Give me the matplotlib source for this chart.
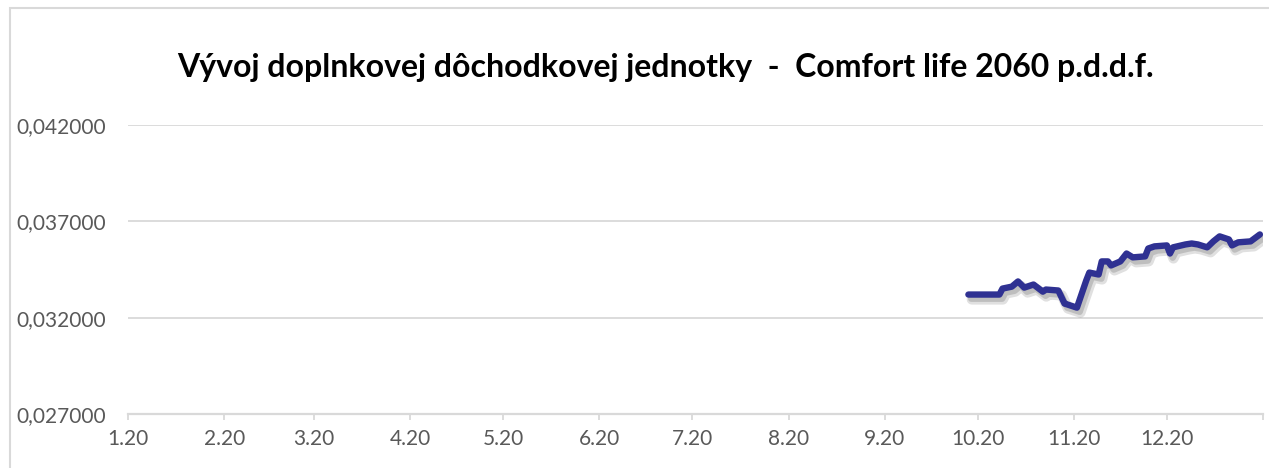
import pandas as pd
import numpy as np
import matplotlib.pyplot as plt
import matplotlib.dates as mdates
import matplotlib.patheffects as pe
from matplotlib.patches import Rectangle

# ==========================================
# DATA
# ==========================================
dates = [
    "2020-09-28", "2020-09-30", "2020-10-02", "2020-10-06", "2020-10-08",
    "2020-10-09", "2020-10-12", "2020-10-14", "2020-10-16", "2020-10-19",
    "2020-10-22", "2020-10-23", "2020-10-27", "2020-10-29", "2020-10-30",
    "2020-11-02", "2020-11-05", "2020-11-06", "2020-11-09", "2020-11-10",
    "2020-11-12", "2020-11-13", "2020-11-16", "2020-11-18", "2020-11-20",
    "2020-11-24", "2020-11-25", "2020-11-27", "2020-12-01", "2020-12-02",
    "2020-12-03", "2020-12-07", "2020-12-09", "2020-12-11", "2020-12-14",
    "2020-12-16", "2020-12-18", "2020-12-21", "2020-12-22", "2020-12-24",
    "2020-12-28", "2020-12-31",
]
values = [
    0.03320, 0.03320, 0.03320, 0.03320, 0.03320,
    0.03351, 0.03361, 0.03388, 0.03356, 0.03372,
    0.03335, 0.03346, 0.03341, 0.03273, 0.03268,
    0.03252, 0.03393, 0.03434, 0.03424, 0.03492,
    0.03492, 0.03471, 0.03492, 0.03533, 0.03513,
    0.03518, 0.03559, 0.03570, 0.03575, 0.03533,
    0.03565, 0.03580, 0.03585, 0.03580, 0.03565,
    0.03596, 0.03622, 0.03606, 0.03575, 0.03591,
    0.03596, 0.03632,
]
month_starts = pd.date_range("2020-01-01", "2021-01-01", freq="MS")
month_labels = ["1.20", "2.20", "3.20", "4.20", "5.20", "6.20", "7.20",
                "8.20", "9.20", "10.20", "11.20", "12.20", ""]
y_ticks = [0.027, 0.032, 0.037, 0.042]

title = "Vývoj doplnkovej dôchodkovej jednotky  -  Comfort life 2060 p.d.d.f."

# ==========================================
# CHART
# ==========================================
plt.rcParams['font.family'] = ['Lato', 'DejaVu Sans']

W, H = 1269, 468
fig = plt.figure(figsize=(W / 100, H / 100), dpi=100)
ax = fig.add_axes([128 / W, 1 - 414 / H, (1263 - 128) / W, (414 - 125) / H])

grid_c = '#d9d9d9'
text_c = '#595959'

x = pd.to_datetime(dates)
ax.plot(x, values, color='#2f3192', linewidth=4.6, solid_joinstyle='round',
        solid_capstyle='round', zorder=3,
        path_effects=[pe.SimpleLineShadow(offset=(2.5, -3.5), shadow_color='#000000', alpha=0.12, linewidth=7.5),
                      pe.SimpleLineShadow(offset=(2, -3), shadow_color='#000000', alpha=0.15),
                      pe.Normal()])

ax.set_xlim(month_starts[0], month_starts[-1])
ax.set_ylim(0.027, 0.042)
ax.set_xticks(month_starts)
ax.set_xticklabels(month_labels)
ax.set_yticks(y_ticks)
ax.yaxis.set_major_formatter(plt.FuncFormatter(lambda v, p: f"{v:.6f}".replace('.', ',')))

ax.grid(axis='y', color=grid_c, linewidth=1.3)
ax.set_axisbelow(True)
for s in ['top', 'right', 'left']:
    ax.spines[s].set_visible(False)
ax.spines['bottom'].set_color(grid_c)
ax.spines['bottom'].set_linewidth(1.6)

ax.tick_params(axis='y', length=0, pad=16, labelsize=15, labelcolor=text_c)
ax.tick_params(axis='x', length=4.5, width=1.3, color=grid_c, pad=6, labelsize=15, labelcolor=text_c)

fig.text(665 / W, 1 - 68 / H, title, ha='center', va='center',
         fontsize=23, fontweight='bold', color='black')

# chart area border
fig.patches.append(Rectangle((10 / W, -0.1), 1.2, 1.1 - 8 / H, transform=fig.transFigure,
                             fill=False, edgecolor=grid_c, linewidth=1.5))

fig.savefig('out.png', dpi=100)
